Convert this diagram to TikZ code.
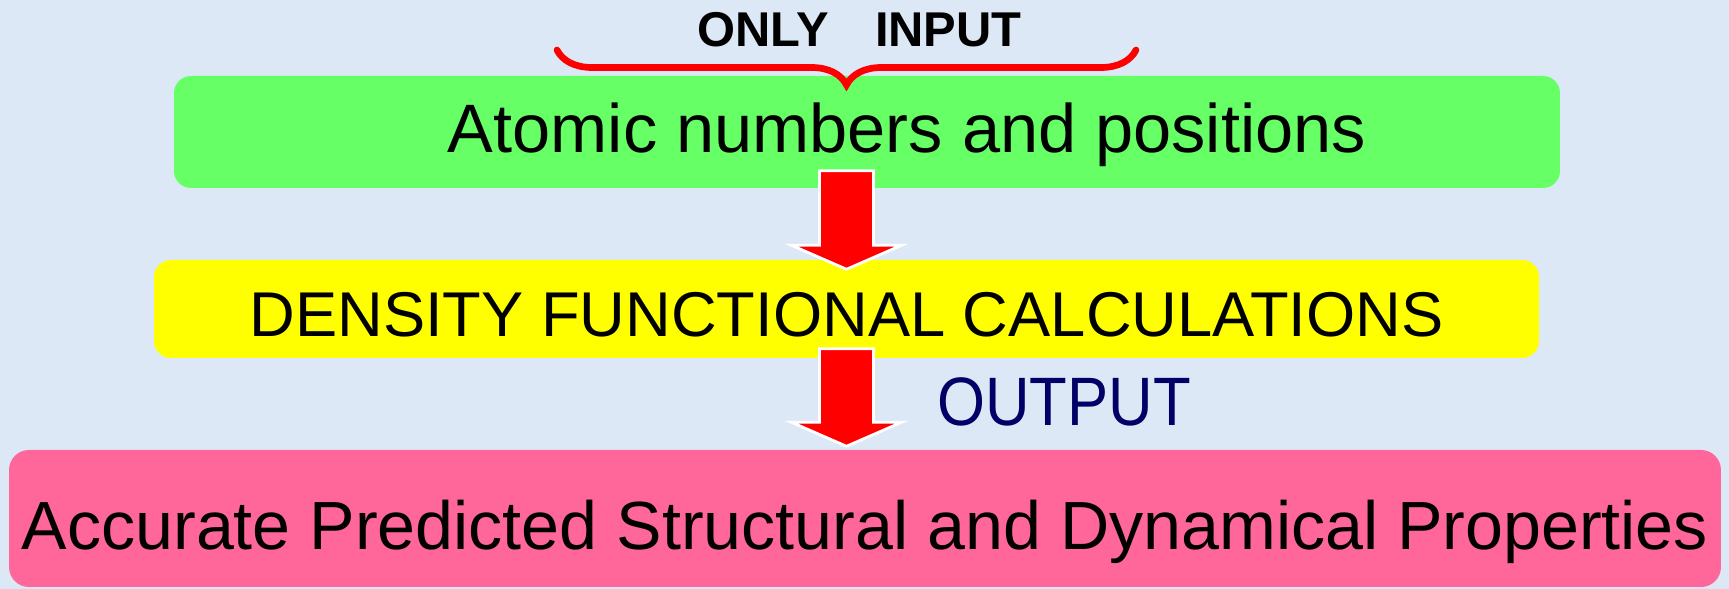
\documentclass[tikz,border=0pt]{standalone}
\usepackage{fontspec}
\setmainfont{Liberation Sans}
\usepackage{graphicx}
\usetikzlibrary{calc,decorations.pathreplacing}
\definecolor{Sky}{HTML}{DCE8F6}
\definecolor{InGreen}{HTML}{66FF66}
\definecolor{DftYellow}{HTML}{FFFF00}
\definecolor{OutPink}{HTML}{FF6699}
\definecolor{Navy}{HTML}{000066}

\begin{document}
\begin{tikzpicture}[x=0.1mm,y=-0.1mm,
  box/.style={rounded corners=0.17cm,inner sep=0pt,text depth=0pt},
  blockarr/.style={fill=red,draw=white,line width=0.8pt,
    to path={($(\tikztostart)+(-0.27cm,0)$) -- ($(\tikztostart)+(0.27cm,0)$)
      -- ($(\tikztotarget)+(0.27cm,0.24cm)$) -- ($(\tikztotarget)+(0.55cm,0.24cm)$)
      -- (\tikztotarget) -- ($(\tikztotarget)+(-0.55cm,0.24cm)$)
      -- ($(\tikztotarget)+(-0.27cm,0.24cm)$) -- cycle}},
  bracket/.style={draw=red,line width=1.9pt,line cap=round,decorate,
    decoration={brace,mirror,amplitude=0.35cm}}]
  \fill[Sky] (0,0) rectangle (1729,589);
  \node[box,fill=InGreen,minimum width=13.86cm,minimum height=1.12cm,
    text height=11.4pt,font=\fontsize{19.5}{23}\selectfont] (atoms) at (867,132)
    {\hspace*{0.8cm}Atomic numbers and positions};
  \node[box,fill=DftYellow,minimum width=13.85cm,minimum height=0.98cm,
    text height=15.9pt,font=\fontsize{18}{22}\selectfont] (dft) at (846.5,309)
    {DENSITY FUNCTIONAL CALCULATIONS};
  \node[box,fill=OutPink,rounded corners=0.2cm,minimum width=17.12cm,minimum height=1.37cm,
    text height=17.4pt,font=\fontsize{19.4}{23}\selectfont] (props) at (865,518.5)
    {Accurate Predicted Structural and Dynamical Properties};
  \node[anchor=base,font=\bfseries\fontsize{13.9}{16}\selectfont] (only) at (859.5,47)
    {ONLY\hspace{0.95em}INPUT};
  \node[anchor=base,text=Navy,font=\fontsize{19.5}{23}\selectfont] (out) at (1064,426)
    {\scalebox{0.9}[1]{OUTPUT}};
  % brace over the input box
  \coordinate (bl) at (557,50);
  \coordinate (br) at (1136,50);
  \draw[bracket] (bl) -- (br);
  % block arrows
  \coordinate (a1s) at ($(atoms.south -| dft.north)+(0,-18)$);
  \coordinate (a1e) at ($(dft.north)+(0,10)$);
  \coordinate (a2s) at ($(dft.south)+(0,-10)$);
  \coordinate (a2e) at ($(dft.south |- props.north)+(0,-3)$);
  \draw[blockarr] (a1s) to (a1e);
  \draw[blockarr] (a2s) to (a2e);
\end{tikzpicture}
\end{document}
